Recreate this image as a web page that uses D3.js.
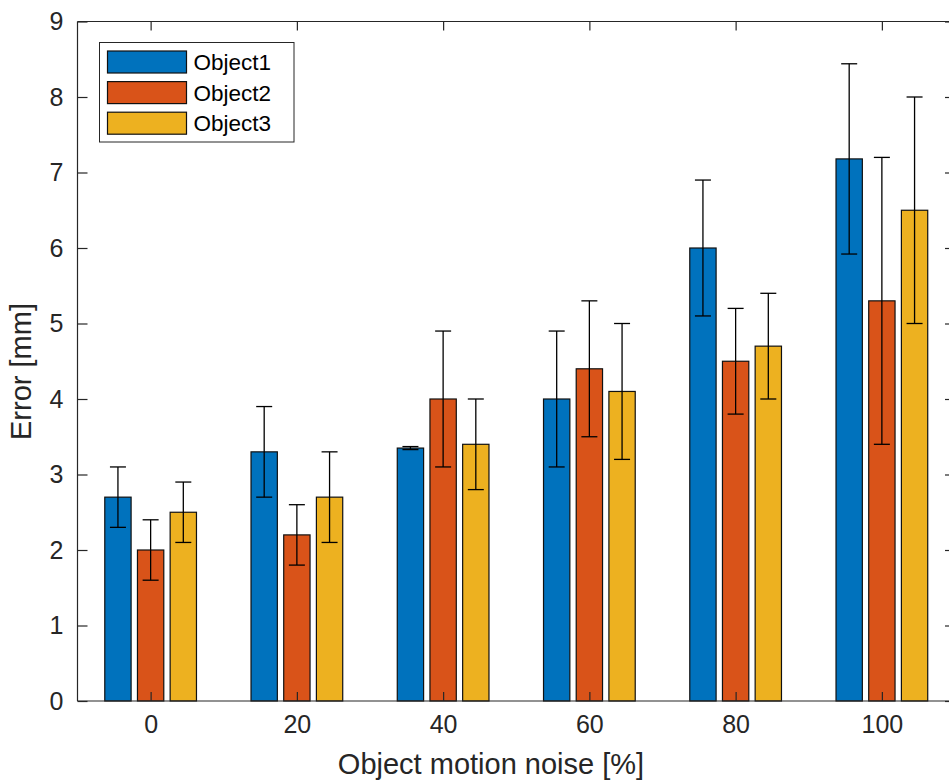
<!DOCTYPE html>
<html>
<head>
<meta charset="utf-8">
<script src="https://cdn.jsdelivr.net/npm/d3@7"></script>
<style>
  body { margin: 0; background: #fff; }
  text { font-family: "Liberation Sans", Arial, Helvetica, sans-serif; fill: #262626; }
</style>
</head>
<body>
<div id="chart"></div>
<script>
var noise = [0, 20, 40, 60, 80, 100];
var seriesNames = ['Object1', 'Object2', 'Object3'];
var colors = ['#0072BD', '#D95319', '#EDB120'];

// mean error per noise level
var object1 = [2.7, 3.3, 3.35, 4.0, 6.0, 7.18];
var object2 = [2.0, 2.2, 4.0, 4.4, 4.5, 5.3];
var object3 = [2.5, 2.7, 3.4, 4.1, 4.7, 6.5];

// +/- error
var err1 = [0.4, 0.6, 0.02, 0.9, 0.9, 1.26];
var err2 = [0.4, 0.4, 0.9, 0.9, 0.7, 1.9];
var err3 = [0.4, 0.6, 0.6, 0.9, 0.7, 1.5];

var yTicks = [0, 1, 2, 3, 4, 5, 6, 7, 8, 9];

var width = 949;
var height = 781;

var pLeft = 77.5, pRight = 955, pTop = 21.5, pBottom = 701;

var x = d3.scaleLinear().domain([-10, 110]).range([pLeft, pRight]);
var y = d3.scaleLinear().domain([0, 9]).range([pBottom, pTop]);

var means = [object1, object2, object3];
var errs = [err1, err2, err3];
var offsets = [-4.47, 0, 4.47];
var barW = 3.6;

var rows = [];
means.forEach(function(s, k) {
    s.forEach(function(v, i) {
        rows.push({ k: k, n: noise[i], v: v, e: errs[k][i] });
    });
});

var svg = d3.select('#chart').append('svg')
    .attr('width', width)
    .attr('height', height);

// bars
svg.selectAll('.bar')
    .data(rows)
  .enter().append('rect')
    .attr('class', 'bar')
    .attr('x', function(d) { return x(d.n + offsets[d.k] - barW / 2); })
    .attr('width', function(d) { return x(barW) - x(0); })
    .attr('y', function(d) { return y(d.v); })
    .attr('height', function(d) { return y(0) - y(d.v); })
    .attr('fill', function(d) { return colors[d.k]; })
    .attr('stroke', '#111')
    .attr('stroke-width', 1.2);

// error bars
var eb = svg.selectAll('.err')
    .data(rows)
  .enter().append('g')
    .attr('class', 'err')
    .attr('stroke', '#000')
    .attr('stroke-width', 1.3);

eb.append('line')
    .attr('x1', function(d) { return x(d.n + offsets[d.k]); })
    .attr('x2', function(d) { return x(d.n + offsets[d.k]); })
    .attr('y1', function(d) { return y(d.v - d.e); })
    .attr('y2', function(d) { return y(d.v + d.e); });

[-1, 1].forEach(function(sgn) {
    eb.append('line')
        .attr('x1', function(d) { return x(d.n + offsets[d.k]) - 8; })
        .attr('x2', function(d) { return x(d.n + offsets[d.k]) + 8; })
        .attr('y1', function(d) { return y(d.v + sgn * d.e); })
        .attr('y2', function(d) { return y(d.v + sgn * d.e); });
});

// axes (box with inward ticks)
var axisColor = '#262626';

var gx = svg.append('g')
    .attr('transform', 'translate(0,' + pBottom + ')')
    .call(d3.axisBottom(x).tickValues(noise).tickSize(-9).tickPadding(14));
var gxTop = svg.append('g')
    .attr('transform', 'translate(0,' + pTop + ')')
    .call(d3.axisTop(x).tickValues(noise).tickSize(-9).tickFormat(''));
var gy = svg.append('g')
    .attr('transform', 'translate(' + pLeft + ',0)')
    .call(d3.axisLeft(y).tickValues(yTicks).tickSize(-10).tickPadding(14));
var gyRight = svg.append('g')
    .attr('transform', 'translate(' + pRight + ',0)')
    .call(d3.axisRight(y).tickValues(yTicks).tickSize(-10).tickFormat(''));

[gx, gxTop, gy, gyRight].forEach(function(g) {
    g.select('.domain').attr('stroke', axisColor).attr('stroke-width', 1.2)
        .attr('d', g === gx || g === gxTop
            ? 'M' + pLeft + ',0H' + pRight
            : 'M0,' + pTop + 'V' + pBottom);
    g.selectAll('.tick line').attr('stroke', axisColor).attr('stroke-width', 1.2);
    g.selectAll('.tick text')
        .attr('fill', axisColor)
        .style('font-size', '25px')
        .style('font-family', '"Liberation Sans", Arial, sans-serif');
});

// axis labels
svg.append('text')
    .attr('x', 491)
    .attr('y', 774)
    .attr('text-anchor', 'middle')
    .style('font-size', '29px')
    .text('Object motion noise [%]');

svg.append('text')
    .attr('transform', 'translate(31,371.5) rotate(-90)')
    .attr('text-anchor', 'middle')
    .style('font-size', '29px')
    .text('Error [mm]');

// legend
var legend = svg.append('g').attr('class', 'legend');

legend.append('rect')
    .attr('x', 99.5)
    .attr('y', 42.5)
    .attr('width', 194.5)
    .attr('height', 99.5)
    .attr('fill', '#fff')
    .attr('stroke', axisColor)
    .attr('stroke-width', 1);

var items = legend.selectAll('.item')
    .data(seriesNames)
  .enter().append('g')
    .attr('class', 'item')
    .attr('transform', function(d, i) { return 'translate(107.5,' + (51 + i * 30.6) + ')'; });

items.append('rect')
    .attr('width', 79)
    .attr('height', 22)
    .attr('fill', function(d, i) { return colors[i]; })
    .attr('stroke', '#111')
    .attr('stroke-width', 1.2);

items.append('text')
    .attr('x', 86)
    .attr('y', 11)
    .attr('dy', '0.36em')
    .style('font-size', '22.5px')
    .style('fill', '#000')
    .text(function(d) { return d; });
</script>
</body>
</html>
